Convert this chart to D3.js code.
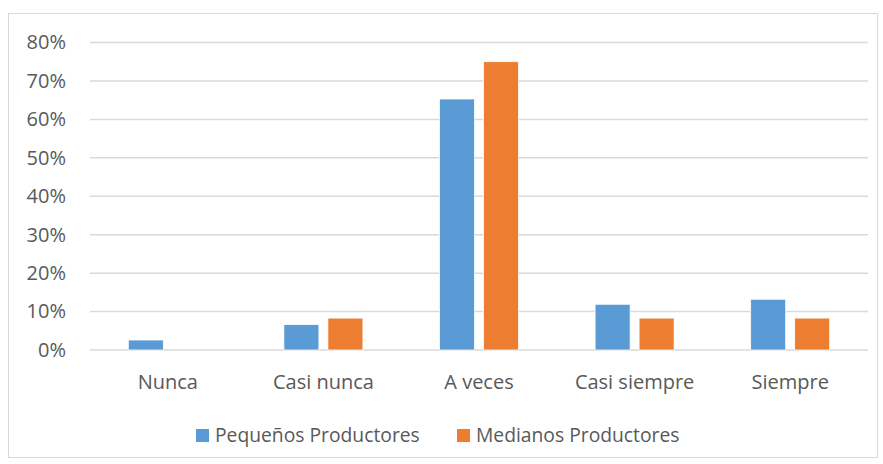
<!DOCTYPE html>
<html><head><meta charset="utf-8">
<script src="https://cdn.jsdelivr.net/npm/d3@7"></script>
<style>html,body{margin:0;padding:0;background:#fff}</style>
</head><body>
<svg id="c" width="883" height="464"></svg>
<script>
const categories = ["Nunca","Casi nunca","A veces","Casi siempre","Siempre"];
const seriesNames = ["Pequeños Productores","Medianos Productores"];
const pequenos = [0.026, 0.066, 0.653, 0.119, 0.132];
const medianos = [0.0, 0.083, 0.75, 0.083, 0.083];
const colors = ["#5B9BD5","#ED7D31"];
const yTicks = [0,0.1,0.2,0.3,0.4,0.5,0.6,0.7,0.8];

const svg = d3.select("#c");
const font = "'Open Sans', 'Liberation Sans', sans-serif";
const fs = "20px";
svg.append("rect").attr("x",8.5).attr("y",13.5).attr("width",869).attr("height",444)
  .attr("fill","#fff").attr("stroke","#d9d9d9").attr("stroke-width",1);

const pL=90, pR=868, pT=42.5, pB=350;
const x = d3.scaleBand().domain(categories).range([pL,pR]).paddingInner(0).paddingOuter(0);
const y = d3.scaleLinear().domain([0,0.8]).range([pB,pT]);
const xs = d3.scaleBand().domain(seriesNames).range([0,x.bandwidth()]).paddingInner(0.2045).paddingOuter(0.87);

const yAxis = d3.axisLeft(y).tickValues(yTicks).tickFormat(d3.format(".0%")).tickSize(0).tickPadding(24);
const gy = svg.append("g").attr("transform",`translate(${pL},0)`).call(yAxis);
gy.select(".domain").remove();
gy.selectAll("text").attr("fill","#595959").style("font-family",font).style("font-size",fs);
svg.append("g").selectAll("line").data(yTicks).join("line")
  .attr("x1",pL).attr("x2",pR).attr("y1",d=>y(d)).attr("y2",d=>y(d))
  .attr("stroke","#d9d9d9").attr("stroke-width",1.5);

const data = categories.map((c,i)=>({c, vals:[pequenos[i],medianos[i]]}));
const g = svg.append("g");
data.forEach(d=>{
  d.vals.forEach((v,j)=>{
    if(v<=0) return;
    g.append("rect").attr("x",x(d.c)+xs(seriesNames[j])).attr("width",xs.bandwidth())
     .attr("y",y(v)).attr("height",y(0)-y(v)).attr("fill",colors[j])
     .attr("stroke","#fff").attr("stroke-width",0.75);
  });
});

const xAxis = d3.axisBottom(x).tickSize(0).tickPadding(24.5);
const gx = svg.append("g").attr("transform",`translate(0,${pB})`).call(xAxis);
gx.select(".domain").remove();
gx.selectAll("text").attr("fill","#595959").style("font-family",font).style("font-size",fs);

const leg = svg.append("g");
const legX = [196, 457];
seriesNames.forEach((s,i)=>{
  leg.append("rect").attr("x",legX[i]).attr("y",429).attr("width",13).attr("height",13).attr("fill",colors[i]);
  leg.append("text").attr("x",legX[i]+19).attr("y",442).text(s)
    .attr("fill","#595959").style("font-family",font).style("font-size","19.3px");
});
</script>
</body></html>
